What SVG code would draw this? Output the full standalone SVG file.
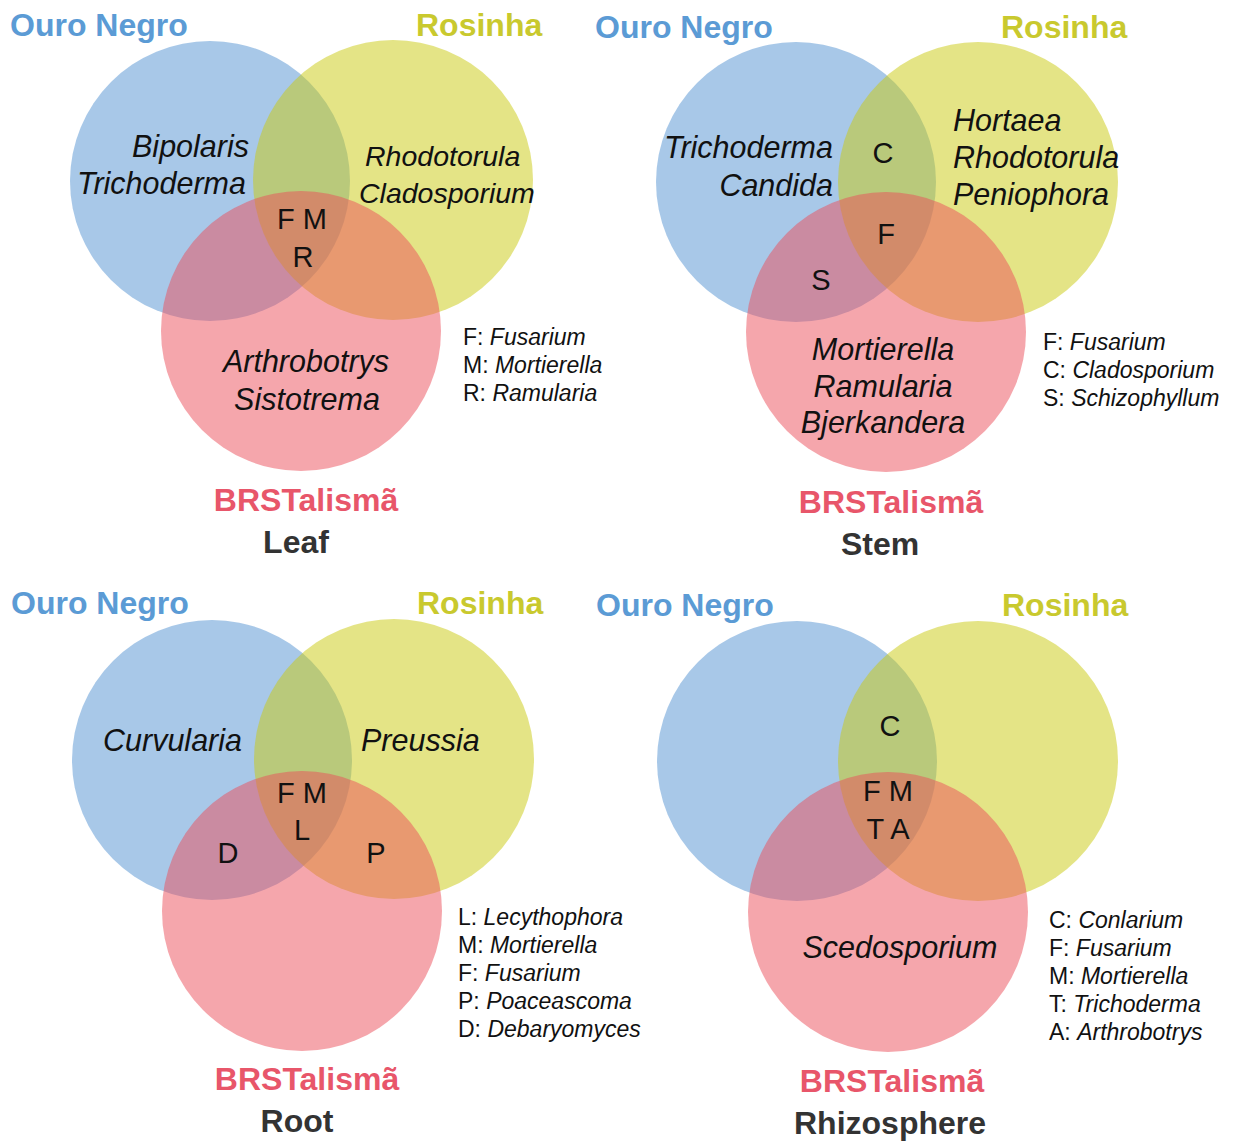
<svg xmlns="http://www.w3.org/2000/svg" width="1235" height="1142" viewBox="0 0 1235 1142">
<style>
text{font-family:"Liberation Sans",Arial,Helvetica,sans-serif;fill:#111}
.t{font-size:32px;font-weight:bold}
.on{fill:#5b9bd5}
.ro{fill:#c9c92e}
.br{fill:#e8566a}
.pn{fill:#333}
.sp{font-size:30.5px;font-style:italic}
.sp28{font-size:28.5px;font-style:italic}
.c{font-size:29px}
.lg{font-size:23px}
.lg tspan.i{font-style:italic}
.m{text-anchor:middle}
.e{text-anchor:end}
.cb{fill:rgb(81,145,209);fill-opacity:0.5}
.cy{fill:rgb(201,201,13);fill-opacity:0.5}
.cp{fill:rgb(235,77,89);fill-opacity:0.5}
</style>
<rect width="1235" height="1142" fill="#ffffff"/>

<g id="leaf">
  <g id="leaf-ouro"><circle class="cb" cx="210" cy="181" r="140"/></g>
  <g id="leaf-rosinha"><circle class="cy" cx="393" cy="180" r="140"/></g>
  <g id="leaf-brs"><circle class="cp" cx="301" cy="331" r="140"/></g>
  <text class="t on" x="10" y="36">Ouro Negro</text>
  <text class="t ro" x="416" y="36">Rosinha</text>
  <text class="sp e" x="249" y="157">Bipolaris</text>
  <text class="sp e" x="246" y="194">Trichoderma</text>
  <text class="sp28" x="365" y="166">Rhodotorula</text>
  <text class="sp28" x="359" y="203">Cladosporium</text>
  <text class="c m" x="302" y="229">F M</text>
  <text class="c m" x="303" y="267">R</text>
  <text class="sp m" x="306" y="372">Arthrobotrys</text>
  <text class="sp m" x="307" y="410">Sistotrema</text>
  <text class="lg" x="463" y="345">F: <tspan class="i">Fusarium</tspan></text>
  <text class="lg" x="463" y="373">M: <tspan class="i">Mortierella</tspan></text>
  <text class="lg" x="463" y="401">R: <tspan class="i">Ramularia</tspan></text>
  <text class="t br m" x="306" y="511">BRSTalismã</text>
  <text class="t pn m" x="296" y="553">Leaf</text>
</g>

<g id="stem">
  <g id="stem-ouro"><circle class="cb" cx="796" cy="182" r="140"/></g>
  <g id="stem-rosinha"><circle class="cy" cx="978" cy="182" r="140"/></g>
  <g id="stem-brs"><circle class="cp" cx="886" cy="332" r="140"/></g>
  <text class="t on" x="595" y="38">Ouro Negro</text>
  <text class="t ro" x="1001" y="38">Rosinha</text>
  <text class="sp e" x="833" y="158">Trichoderma</text>
  <text class="sp e" x="833" y="196">Candida</text>
  <text class="c m" x="883" y="163">C</text>
  <text class="sp" x="953" y="131">Hortaea</text>
  <text class="sp" x="953" y="168">Rhodotorula</text>
  <text class="sp" x="953" y="205">Peniophora</text>
  <text class="c m" x="886" y="244">F</text>
  <text class="c m" x="821" y="290">S</text>
  <text class="sp m" x="883" y="360">Mortierella</text>
  <text class="sp m" x="883" y="397">Ramularia</text>
  <text class="sp m" x="883" y="433">Bjerkandera</text>
  <text class="lg" x="1043" y="350">F: <tspan class="i">Fusarium</tspan></text>
  <text class="lg" x="1043" y="378">C: <tspan class="i">Cladosporium</tspan></text>
  <text class="lg" x="1043" y="406">S: <tspan class="i">Schizophyllum</tspan></text>
  <text class="t br m" x="891" y="513">BRSTalismã</text>
  <text class="t pn m" x="880" y="555">Stem</text>
</g>

<g id="root">
  <g id="root-ouro"><circle class="cb" cx="212" cy="760" r="140"/></g>
  <g id="root-rosinha"><circle class="cy" cx="394" cy="759" r="140"/></g>
  <g id="root-brs"><circle class="cp" cx="302" cy="911" r="140"/></g>
  <text class="t on" x="11" y="614">Ouro Negro</text>
  <text class="t ro" x="417" y="614">Rosinha</text>
  <text class="sp" x="103" y="751">Curvularia</text>
  <text class="sp" x="361" y="751">Preussia</text>
  <text class="c m" x="302" y="803">F M</text>
  <text class="c m" x="302" y="840">L</text>
  <text class="c m" x="228" y="863">D</text>
  <text class="c m" x="376" y="863">P</text>
  <text class="lg" x="458" y="925">L: <tspan class="i">Lecythophora</tspan></text>
  <text class="lg" x="458" y="953">M: <tspan class="i">Mortierella</tspan></text>
  <text class="lg" x="458" y="981">F: <tspan class="i">Fusarium</tspan></text>
  <text class="lg" x="458" y="1009">P: <tspan class="i">Poaceascoma</tspan></text>
  <text class="lg" x="458" y="1037">D: <tspan class="i">Debaryomyces</tspan></text>
  <text class="t br m" x="307" y="1090">BRSTalismã</text>
  <text class="t pn m" x="297" y="1132">Root</text>
</g>

<g id="rhizosphere">
  <g id="rhizo-ouro"><circle class="cb" cx="797" cy="761" r="140"/></g>
  <g id="rhizo-rosinha"><circle class="cy" cx="978" cy="761" r="140"/></g>
  <g id="rhizo-brs"><circle class="cp" cx="888" cy="912" r="140"/></g>
  <text class="t on" x="596" y="616">Ouro Negro</text>
  <text class="t ro" x="1002" y="616">Rosinha</text>
  <text class="c m" x="890" y="736">C</text>
  <text class="c m" x="888" y="801">F M</text>
  <text class="c m" x="888" y="839">T A</text>
  <text class="sp m" x="900" y="958">Scedosporium</text>
  <text class="lg" x="1049" y="928">C: <tspan class="i">Conlarium</tspan></text>
  <text class="lg" x="1049" y="956">F: <tspan class="i">Fusarium</tspan></text>
  <text class="lg" x="1049" y="984">M: <tspan class="i">Mortierella</tspan></text>
  <text class="lg" x="1049" y="1012">T: <tspan class="i">Trichoderma</tspan></text>
  <text class="lg" x="1049" y="1040">A: <tspan class="i">Arthrobotrys</tspan></text>
  <text class="t br m" x="892" y="1092">BRSTalismã</text>
  <text class="t pn m" x="890" y="1134">Rhizosphere</text>
</g>
</svg>
